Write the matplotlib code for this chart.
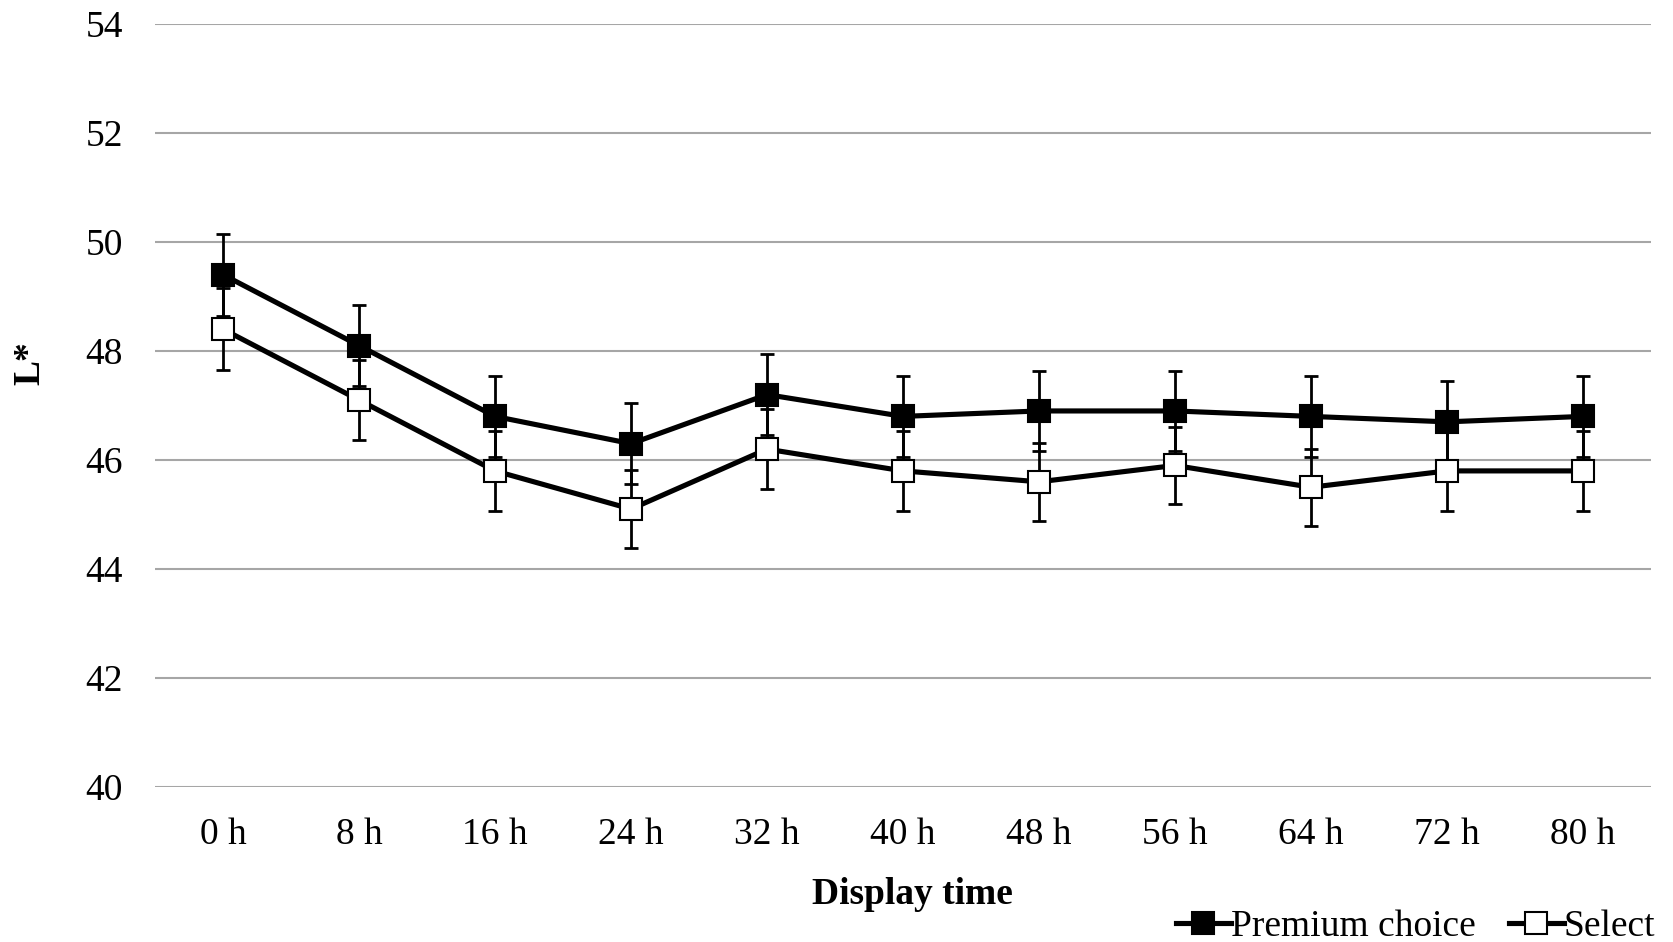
import matplotlib
matplotlib.use("Agg")
import matplotlib.pyplot as plt
from matplotlib.lines import Line2D

plt.rcParams["font.family"] = ["Liberation Serif", "DejaVu Serif"]

times = ["0 h", "8 h", "16 h", "24 h", "32 h", "40 h", "48 h", "56 h", "64 h", "72 h", "80 h"]
premium = [49.4, 48.1, 46.8, 46.3, 47.2, 46.8, 46.9, 46.9, 46.8, 46.7, 46.8]
premium_err = [0.75, 0.74, 0.75, 0.74, 0.74, 0.75, 0.74, 0.74, 0.75, 0.75, 0.75]
select = [48.4, 47.1, 45.8, 45.1, 46.2, 45.8, 45.6, 45.9, 45.5, 45.8, 45.8]
select_err = [0.75, 0.73, 0.73, 0.72, 0.73, 0.73, 0.72, 0.71, 0.71, 0.73, 0.73]
y_ticks = [40, 42, 44, 46, 48, 50, 52, 54]

FS = 27
W, H, DPI = 1673, 942, 100
fig = plt.figure(figsize=(W / DPI, H / DPI), dpi=DPI)
ax = fig.add_axes([155 / W, 1 - 787 / H, (1651 - 155) / W, (787 - 24) / H])

x = list(range(len(times)))

for vals, errs, face, z in [(premium, premium_err, "black", 3), (select, select_err, "white", 4)]:
    ax.errorbar(x, vals, yerr=errs, fmt="none", ecolor="black", elinewidth=2.0,
                capsize=5, capthick=2.0, zorder=z)
    ax.plot(x, vals, color="black", linewidth=3.7, marker="s", markersize=16.5,
            markerfacecolor=face, markeredgecolor="black", markeredgewidth=1.5,
            zorder=z + 0.5)

ax.set_xlim(-0.5, len(times) - 0.5)
ax.set_ylim(40, 54)
ax.set_yticks(y_ticks)
ax.set_yticklabels([str(v) for v in y_ticks])
ax.set_xticks(x)
ax.set_xticklabels(times)
ax.tick_params(axis="both", length=0, labelsize=FS, colors="black")
ax.tick_params(axis="y", pad=23)
ax.tick_params(axis="x", pad=22)
ax.grid(axis="y", color="#a6a6a6", linewidth=1.5)
ax.set_axisbelow(True)
for s in ax.spines.values():
    s.set_visible(False)

fig.text(30 / W, 1 - 363 / H, "L*", rotation=90, fontsize=FS, fontweight="bold",
         ha="center", va="center")
fig.text(912 / W, 1 - 894 / H, "Display time", fontsize=FS, fontweight="bold",
         ha="center", va="center")

handles = [
    Line2D([], [], color="black", linewidth=3.7, marker="s", markersize=16.5,
           markerfacecolor="black", markeredgecolor="black", markeredgewidth=1.5),
    Line2D([], [], color="black", linewidth=3.7, marker="s", markersize=16.5,
           markerfacecolor="white", markeredgecolor="black", markeredgewidth=1.5),
]
fig.legend(handles, ["Premium choice", "Select"], loc="center right",
           bbox_to_anchor=(1655 / W, 1 - 927 / H), ncol=2, frameon=False,
           fontsize=FS, handlelength=1.45, handletextpad=0.0, columnspacing=0.9,
           borderpad=0, borderaxespad=0)

fig.savefig("out.png", dpi=DPI, facecolor="white")
